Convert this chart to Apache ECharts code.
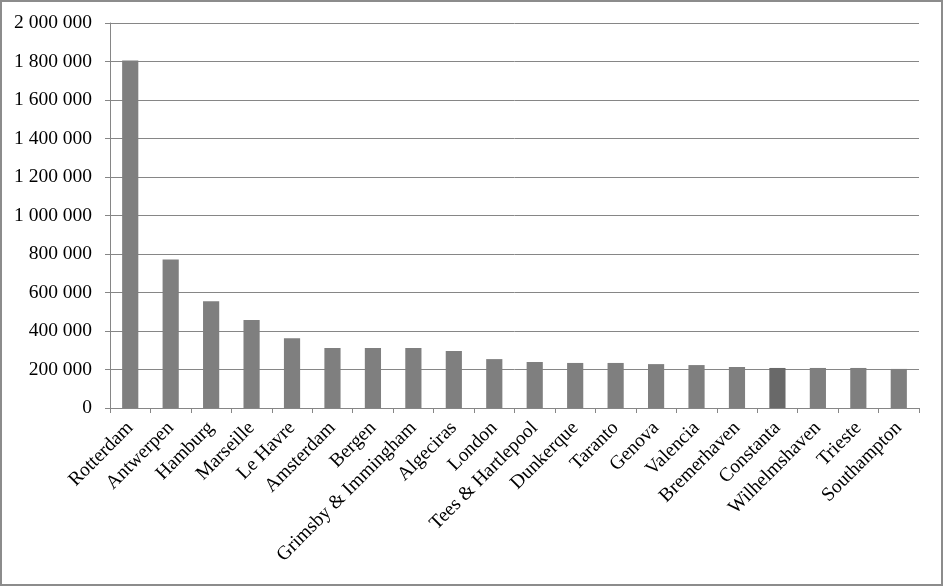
<!DOCTYPE html>
<html>
<head>
<meta charset="utf-8">
<script src="https://cdn.jsdelivr.net/npm/echarts@6/dist/echarts.min.js"></script>
<style>
html,body{margin:0;padding:0;background:#fff;}
#wrap{position:relative;width:943px;height:586px;}
#chart{position:absolute;left:0;top:0;width:943px;height:586px;}
#frame{position:absolute;left:0;top:0;width:943px;height:586px;box-sizing:border-box;border:2px solid #8c8c8c;pointer-events:none;}
</style>
</head>
<body>
<div id="wrap"><div id="chart"></div><div id="frame"></div></div>
<script>
const categories = ["Rotterdam","Antwerpen","Hamburg","Marseille","Le Havre","Amsterdam","Bergen","Grimsby & Immingham","Algeciras","London","Tees & Hartlepool","Dunkerque","Taranto","Genova","Valencia","Bremerhaven","Constanta","Wilhelmshaven","Trieste","Southampton"];
const values = [1805000,772000,554000,457000,362000,312000,312000,312000,296000,254000,239000,234000,234000,228000,223000,213000,208000,208000,208000,203000];
const highlighted = ["Constanta"];
const yTicks = {min:0, max:2000000, interval:200000};

const barColor = "#7f7f7f";
const hiColor = "#696969";
const data = values.map((v,i)=>({value:v,itemStyle:{color: highlighted.includes(categories[i]) ? hiColor : barColor}}));

function fmt(v){
  return String(v).replace(/\B(?=(\d{3})+(?!\d))/g, " ");
}
const font = "'Liberation Serif','Times New Roman',serif";
const chart = echarts.init(document.getElementById('chart'), null, {renderer:'canvas'});
chart.setOption({
  animation:false,
  backgroundColor:'#fff',
  grid:{left:110,right:24,top:23,bottom:178,containLabel:false},
  xAxis:{
    type:'category',
    data:categories,
    axisLine:{lineStyle:{color:'#868686',width:1}},
    axisTick:{show:true,length:5,lineStyle:{color:'#868686'}},
    axisLabel:{rotate:45,interval:0,color:'#000',fontFamily:font,fontSize:19.5,margin:17}
  },
  yAxis:{
    type:'value',
    min:yTicks.min,max:yTicks.max,interval:yTicks.interval,
    axisLine:{show:true,lineStyle:{color:'#868686',width:1}},
    axisTick:{show:true,length:5,lineStyle:{color:'#868686'}},
    splitLine:{show:true,lineStyle:{color:'#868686',width:1}},
    axisLabel:{color:'#000',fontFamily:font,fontSize:19.5,margin:18,formatter:fmt}
  },
  series:[{
    type:'bar',
    data:data,
    barWidth:'40%'
  }]
});
</script>
</body>
</html>
